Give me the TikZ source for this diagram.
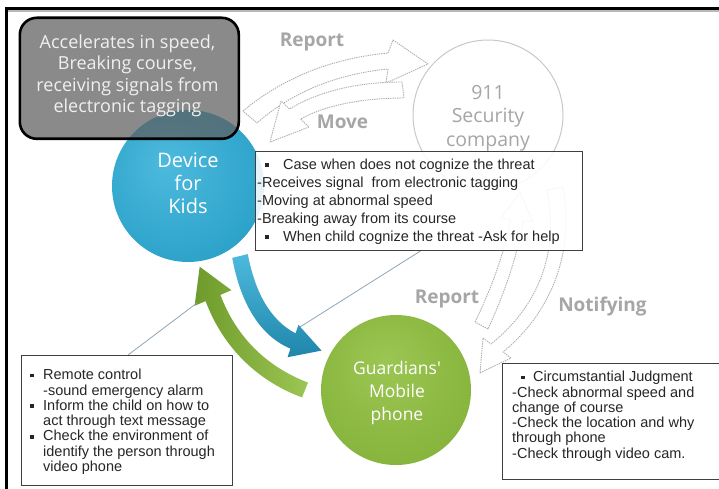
\documentclass[tikz,border=0pt]{standalone}
\usepackage{fontspec}
\setmainfont{Liberation Sans}
\newfontfamily\opensans{Open Sans}
\usetikzlibrary{calc}
\definecolor{kidblue}{HTML}{2CA2C9}
\definecolor{kidbluel}{HTML}{4DBADD}
\definecolor{kidblued}{HTML}{1F86AA}
\definecolor{grn}{HTML}{86B43C}
\definecolor{grnl}{HTML}{9CC653}
\definecolor{grnd}{HTML}{6A9629}
\definecolor{graybox}{HTML}{5E5E5E}
\definecolor{ghost}{HTML}{B0B0B0}
\definecolor{ghosttext}{HTML}{A6A6A6}
\definecolor{ghostc}{HTML}{C8C8C8}
\definecolor{linkline}{HTML}{8FA5B8}
\definecolor{boxline}{HTML}{404040}
\definecolor{txt}{HTML}{262626}
\pgfdeclareradialshading{kidsh}{\pgfpoint{-8bp}{8bp}}{color(0bp)=(kidbluel); color(30bp)=(kidblue); color(50bp)=(kidblued)}
\pgfdeclareradialshading{grnsh}{\pgfpoint{-4bp}{10bp}}{color(0bp)=(grnl); color(30bp)=(grn); color(50bp)=(grnd)}
\newcommand{\sqbul}{\raisebox{2.4pt}{\rule{3.6pt}{3.6pt}}}
\begin{document}
\begin{tikzpicture}[x=1pt,y=-1pt,
  ghostarrow/.style={draw=ghost, dash pattern=on 1.4pt off 0.9pt, line width=0.9pt, fill=white, line join=round},
  ghostlabel/.style={text=ghosttext, font=\opensans\bfseries\fontsize{19}{22}\selectfont, inner sep=0},
  link/.style={draw=linkline, line width=0.8pt},
  infobox/.style={draw=boxline, line width=0.9pt, fill=white, fill opacity=0.88, rectangle, inner sep=0, anchor=north west},
  infotext/.style={text=txt, inner sep=0, anchor=north west, align=left},
  bigcircle/.style={circle, inner sep=0, draw=none},
]
\useasboundingbox (0,0) rectangle (719,489);
\fill[white] (0,0) rectangle (719,489);
% frame
\draw[gray!55, line width=1.6pt] (8,11.2) -- (730,11.2);
\draw[black, line width=2.6pt] (6.5,500) -- (6.5,8.5) -- (730,8.5);

% 911 circle
\node[bigcircle, draw=ghostc, line width=1pt, minimum size=150] (sec) at (488,115) {};
\node[text=ghosttext, font=\opensans\fontsize{19.5}{23.5}\selectfont, align=center, inner sep=0] (sectxt) at (488,118) {911\\Security\\company};

% ghost arrows top
\path[ghostarrow] (243,111) .. controls (285,76) and (335,58) .. (388,53) -- (393,40) -- (428,64) -- (386,83) -- (388,69) .. controls (337,74) and (292,92) .. (257,123) -- cycle;
\path[ghostarrow] (402,82) .. controls (355,82) and (318,92) .. (289.4,109) -- (281,101) -- (270,142) -- (309,127) -- (300.6,119) .. controls (324,106) and (360,98) .. (404,98) -- cycle;
% ghost arrows right
\path[ghostarrow] (475,322) .. controls (493,285) and (505,250) .. (510.5,219.4) -- (501,218) -- (520,193) -- (533,222) -- (523.5,220.6) .. controls (518,252) and (506,290) .. (488,329) -- cycle;
\path[ghostarrow] (547,190) -- (563,187) .. controls (573,240) and (560,305) .. (503,352) -- (511,358) -- (480,373) -- (483,338) -- (491,344) .. controls (548,298) and (557,240) .. (547,190) -- cycle;

\node[ghostlabel] (rep1) at (312,42) {Report};
\node[ghostlabel] (move) at (342.5,122) {Move};
\node[ghostlabel] (rep2) at (447,299) {Report};
\node[ghostlabel] (notif) at (602.5,307) {Notifying};

% device circle
\node[bigcircle, minimum size=152, shading=kidsh] (kids) at (188,186) {};
\node[text=white, font=\opensans\fontsize{20}{23}\selectfont, align=center, inner sep=0] (kidstxt) at (188,183) {Device\\for\\Kids};

% condition box
\node[draw=black, line width=2.6pt, rounded corners=17pt, fill=graybox, fill opacity=0.72, minimum width=219, minimum height=121, anchor=north west, inner sep=0] (cond) at (18.5,16.5) {};
\node[text=white!94!black, font=\opensans\fontsize{18}{21.5}\selectfont, align=center, inner sep=0] (condtxt) at (127.5,76) {Accelerates in speed,\\Breaking course,\\receiving signals from\\electronic tagging};

% guardians circle
\node[bigcircle, minimum size=150, shading=grnsh] (guard) at (396,390) {};
\node[text=white, font=\opensans\fontsize{17.5}{22.7}\selectfont, align=center, inner sep=0] (guardtxt) at (397,393) {Guardians'\\Mobile\\phone};

% thick arrows
\shade[top color=kidbluel, bottom color=kidblued] (232.2,257.9) .. controls (240,300) and (258,335) .. (290.4,348.6) -- (287.6,357.2) -- (321.5,350.6) -- (298.4,324.8) -- (295.6,333.4) .. controls (270,320) and (255,292) .. (247.8,254.1) -- cycle;
\shade[left color=grnd!85!grn, right color=grnl] (302,397.4) .. controls (255,380) and (222,345) .. (205.6,301.1) -- (194.6,305.8) -- (199.7,266.7) -- (231.4,290.2) -- (220.4,294.9) .. controls (236,336) and (265,366) .. (308,382.6) -- cycle;

% links
\coordinate (l1a) at (422,250);
\coordinate (l1b) at (300,327);
\coordinate (l2a) at (128,355);
\coordinate (l2b) at (197,303);
\draw[link] (l1a) -- (l1b);
\draw[link] (l2a) -- (l2b);

% info boxes
\node[infobox, minimum width=327, minimum height=99] (threat) at (255,151) {};
\node[infotext, font=\fontsize{14.5}{18}\selectfont] (threattxt) at (257,156.4) {\strut\hspace*{8pt}\sqbul\hspace*{14.4pt}Case when does not cognize the threat\\-Receives signal\ \ from electronic tagging\\-Moving at abnormal speed\\-Breaking away from its course\\\hspace*{8pt}\sqbul\hspace*{14.4pt}When child cognize the threat -Ask for help};

\node[infobox, minimum width=211, minimum height=130] (remote) at (21,355) {};
\node[infotext, font=\fontsize{14.5}{15.3}\selectfont] (remotetxt) at (30,368.8) {\strut\sqbul\hspace*{9.4pt}Remote control\\\hspace*{13pt}-sound emergency alarm\\\sqbul\hspace*{9.4pt}Inform the child on how to\\\hspace*{13pt}act through text message\\\sqbul\hspace*{9.4pt}Check the environment of\\\hspace*{13pt}identify the person through\\\hspace*{13pt}video phone};

\node[infobox, minimum width=223, minimum height=116] (judge) at (502,363) {};
\node[infotext, font=\fontsize{14.5}{15.3}\selectfont] (judgetxt) at (512,370.8) {\strut\hspace*{9pt}\sqbul\hspace*{8.4pt}Circumstantial Judgment\\-Check abnormal speed and\\change of course\\-Check the location and why\\through phone\\-Check through video cam.};
\end{tikzpicture}
\end{document}
